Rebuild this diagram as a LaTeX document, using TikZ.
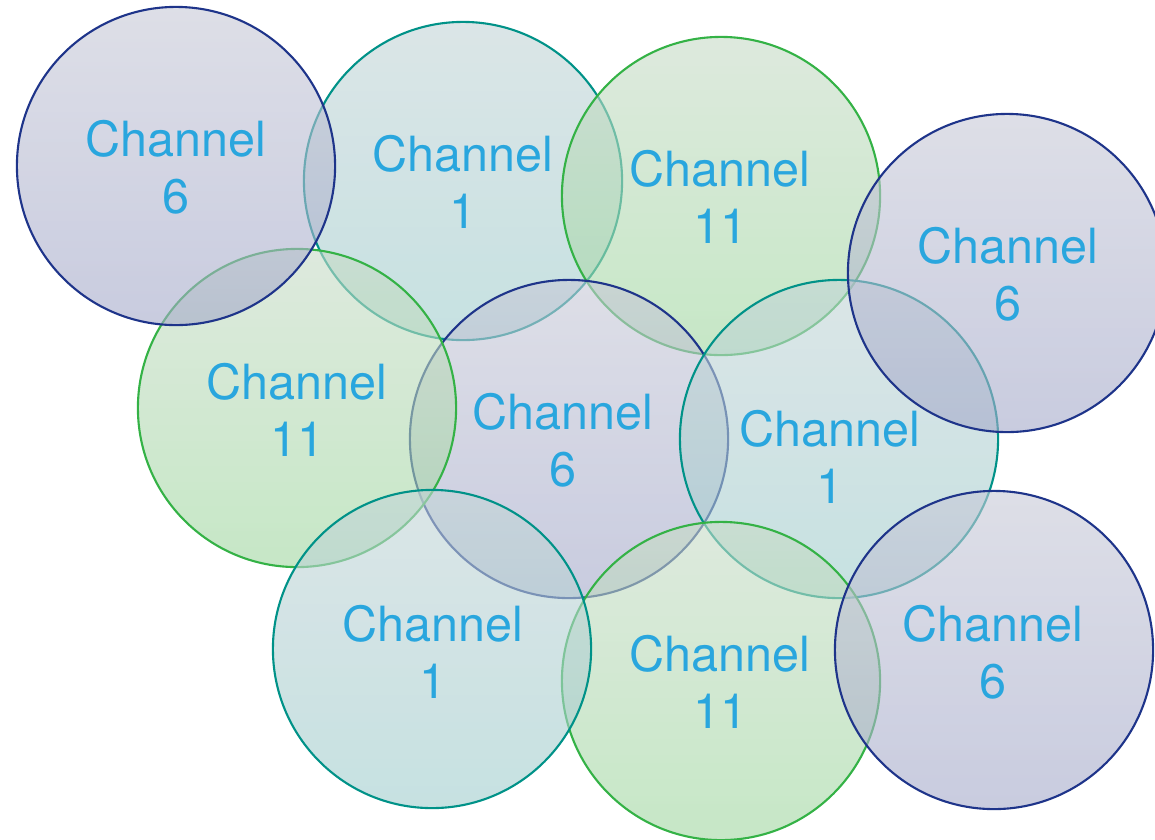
\documentclass[tikz,border=0pt]{standalone}
\usepackage{fontspec}
\setsansfont{TeX Gyre Heros}
\usetikzlibrary{positioning}
\definecolor{chtext}{RGB}{41,166,222}
\definecolor{chbline}{RGB}{30,52,138}
\definecolor{chbtop}{RGB}{199,201,215}
\definecolor{chbbot}{RGB}{164,169,202}
\definecolor{chtline}{RGB}{0,146,136}
\definecolor{chttop}{RGB}{195,212,215}
\definecolor{chtbot}{RGB}{160,205,205}
\definecolor{chgline}{RGB}{52,178,70}
\definecolor{chgtop}{RGB}{199,219,199}
\definecolor{chgbot}{RGB}{160,215,160}

\begin{document}
\begin{tikzpicture}[x=0.01cm, y=-0.01cm,
  cell/.style={circle, minimum size=3.18cm, inner sep=0pt, line width=0.6pt,
               fill opacity=0.6, draw opacity=1},
  ch1/.style={cell, draw=chtline, top color=chttop, bottom color=chtbot},
  ch6/.style={cell, draw=chbline, top color=chbtop, bottom color=chbbot},
  ch11/.style={cell, draw=chgline, top color=chgtop, bottom color=chgbot},
  lbl/.style={font=\sffamily\fontsize{13.8}{16.3}\selectfont, text=chtext,
              align=center, inner sep=0pt},
]
  \useasboundingbox (0,0) rectangle (1155,839);
  \clip (0,0) rectangle (1155,839);

  % cells, back to front
  \foreach \n/\cx/\cy/\c in {b/463/181/1, c/721/196/11, f/569/439/6,
      e/297/408/11, g/839/439/1, i/721/681/11, h/432/649/1,
      a/176/166/6, d/1007/273/6, j/994/650/6}
    \node[ch\c] (cell\n) at (\cx,\cy) {};

  % channel labels
  \foreach \n/\lx/\ly/\c in {a/176/167/6, b/463/182/1, c/720/197/11,
      d/1008/274/6, e/297/410/11, f/563/440/6, g/830/457/1,
      h/433/652/1, i/720/682/11, j/993/652/6}
    \node[lbl] (lab\n) at (\lx,\ly) {Channel\\\c};
\end{tikzpicture}
\end{document}
